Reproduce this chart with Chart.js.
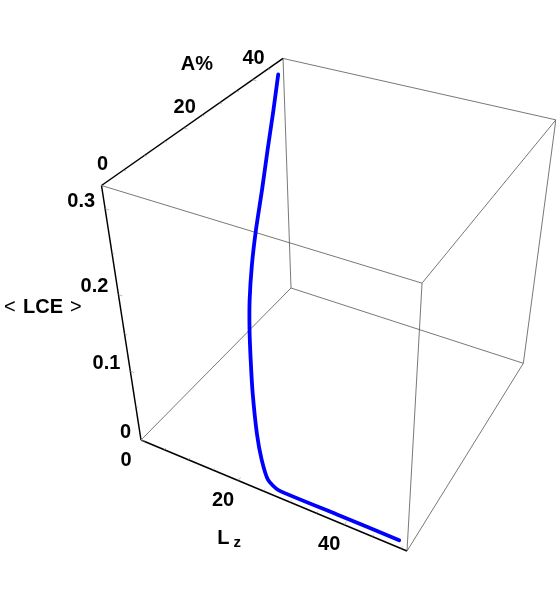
<!DOCTYPE html>
<html>
<head>
<meta charset="utf-8">
<script src="https://cdn.jsdelivr.net/npm/chart.js@4.4.1/dist/chart.umd.min.js"></script>
<style>
  html, body { margin: 0; padding: 0; background: #fff; }
  #plot { display: block; }
</style>
</head>
<body>
<canvas id="plot" width="556" height="603"></canvas>
<script>
// Curve samples: (Lz, A%, <LCE>)
const lzValues  = [0, 3.8, 8.1, 12.3, 16.5, 20.3, 24.0, 24.0, 24.0, 24.1, 24.4, 25.0, 26.0, 27.9, 38.7, 49.6];
const aValues   = [48.2, 40.3, 31.4, 22.9, 14.4, 7.3, 0.9, 0.4, 0.2, 0, 0, 0, 0, 0, 0, 0];
const lceValues = [0.310, 0.293, 0.278, 0.265, 0.255, 0.249, 0.243, 0.210, 0.175, 0.135, 0.081, 0.046, 0.020, 0.011, 0.011, 0.011];

// Box ranges
const lzRange  = [0, 51];
const aRange   = [0, 50];
const lceRange = [0, 0.325];

// Tick labels
const lzTicks  = [0, 20, 40];
const aTicks   = [0, 20, 40];
const lceTicks = [0, 0.1, 0.2, 0.3];
const lzMinor  = [5, 10, 15, 25, 30, 35, 45, 50];
const aMinor   = [5, 10, 15, 25, 30, 35, 45];
const lceMinor = [0.05, 0.15, 0.25];

// Viewing projection (screen anchors of the box origin and axis ends + perspective weights)
const view = {
    origin: [141, 440],
    lzEnd:  [407, 551],
    aEnd:   [291, 288],
    lceEnd: [101.5, 185.5],
    depth:  [0.89, 1.2, 0.835]
};

function project(lz, a, lce) {
    const u = (lz - lzRange[0]) / (lzRange[1] - lzRange[0]);
    const v = (a - aRange[0]) / (aRange[1] - aRange[0]);
    const w = (lce - lceRange[0]) / (lceRange[1] - lceRange[0]);
    const o = view.origin;
    const [k1, k2, k3] = view.depth;
    const nx = o[0] + u * (k1 * view.lzEnd[0] - o[0]) + v * (k2 * view.aEnd[0] - o[0]) + w * (k3 * view.lceEnd[0] - o[0]);
    const ny = o[1] + u * (k1 * view.lzEnd[1] - o[1]) + v * (k2 * view.aEnd[1] - o[1]) + w * (k3 * view.lceEnd[1] - o[1]);
    const d = 1 + u * (k1 - 1) + v * (k2 - 1) + w * (k3 - 1);
    return { x: nx / d, y: ny / d };
}

// Box edges
const L0 = lzRange[0], L1 = lzRange[1];
const A0 = aRange[0], A1 = aRange[1];
const C0 = lceRange[0], C1 = lceRange[1];

const axisEdges = [
    [[L0, A0, C0], [L1, A0, C0]],   // Lz axis
    [[L0, A0, C0], [L0, A0, C1]],   // LCE axis
    [[L0, A0, C1], [L0, A1, C1]]    // A% axis
];
const boxEdges = [
    [[L0, A0, C0], [L0, A1, C0]],
    [[L0, A1, C0], [L1, A1, C0]],
    [[L1, A0, C0], [L1, A1, C0]],
    [[L0, A1, C0], [L0, A1, C1]],
    [[L1, A0, C0], [L1, A0, C1]],
    [[L1, A1, C0], [L1, A1, C1]],
    [[L0, A0, C1], [L1, A0, C1]],
    [[L1, A0, C1], [L1, A1, C1]],
    [[L0, A1, C1], [L1, A1, C1]]
];

function edgeDataset(edge, color, width) {
    return {
        data: edge.map(p => project(p[0], p[1], p[2])),
        showLine: true,
        borderColor: color,
        borderWidth: width,
        pointRadius: 0,
        clip: false
    };
}

const datasets = [];
axisEdges.forEach(e => datasets.push(edgeDataset(e, '#000', 1.5)));
boxEdges.forEach(e => datasets.push(edgeDataset(e, '#555', 0.8)));
datasets.push({
    data: lzValues.map((lz, i) => project(lz, aValues[i], lceValues[i])),
    showLine: true,
    borderColor: '#0000ff',
    borderWidth: 3.8,
    borderCapStyle: 'round',
    borderJoinStyle: 'round',
    tension: 0.2,
    pointRadius: 0,
    clip: false
});

const font = '"Liberation Sans", Arial, Helvetica, sans-serif';

const labelsPlugin = {
    id: 'labels3d',
    afterDatasetsDraw(chart) {
        const ctx = chart.ctx;
        const sx = chart.scales.x, sy = chart.scales.y;
        const px = (lz, a, lce) => {
            const p = project(lz, a, lce);
            return { x: sx.getPixelForValue(p.x), y: sy.getPixelForValue(p.y) };
        };
        const line = (p, q) => {
            ctx.beginPath();
            ctx.moveTo(p.x, p.y);
            ctx.lineTo(q.x, q.y);
            ctx.stroke();
        };
        ctx.save();

        // faint tick marks
        ctx.strokeStyle = '#999';
        ctx.lineWidth = 0.7;
        lzTicks.forEach(t => line(px(t, A0, C0), px(t, A0 + 0.015 * (A1 - A0), C0)));
        lzMinor.forEach(t => line(px(t, A0, C0), px(t, A0 + 0.009 * (A1 - A0), C0)));
        lceTicks.forEach(t => line(px(L0, A0, t), px(L0 + 0.015 * (L1 - L0), A0, t)));
        lceMinor.forEach(t => line(px(L0, A0, t), px(L0 + 0.009 * (L1 - L0), A0, t)));
        aTicks.forEach(t => line(px(L0, t, C1), px(L0 + 0.015 * (L1 - L0), t, C1)));
        aMinor.forEach(t => line(px(L0, t, C1), px(L0 + 0.009 * (L1 - L0), t, C1)));

        ctx.fillStyle = '#000';
        ctx.textBaseline = 'middle';
        ctx.font = 'bold 20px ' + font;

        // LCE tick labels
        ctx.textAlign = 'right';
        lceTicks.forEach(t => {
            const p = px(L0, A0, t);
            ctx.fillText(t === 0 ? '0' : String(t), p.x - 10, p.y - 7.5);
        });
        // Lz tick labels
        ctx.textAlign = 'center';
        lzTicks.forEach(t => {
            const p = px(t, A0, C0);
            ctx.fillText(String(t), p.x - 15, p.y + 20);
        });
        // A% tick labels
        aTicks.forEach(t => {
            const p = px(L0, t, C1);
            ctx.fillText(String(t), p.x + 1, p.y - 21);
        });

        // axis titles
        const aMid = px(L0, (A0 + A1) / 2, C1);
        ctx.fillText('A%', aMid.x - 5, aMid.y - 51);

        const cMid = px(L0, A0, (C0 + C1) / 2);
        ctx.textAlign = 'left';
        ctx.font = '20px ' + font;
        const lx = cMid.x - 119, ly = cMid.y - 17;
        ctx.fillText('<', lx, ly);
        ctx.font = 'bold 20px ' + font;
        ctx.fillText('LCE', lx + 19, ly);
        ctx.font = '20px ' + font;
        ctx.fillText('>', lx + 66, ly);

        const zMid = px((L0 + L1) / 2, A0, C0);
        ctx.font = 'bold 20px ' + font;
        ctx.textAlign = 'center';
        ctx.fillText('L', zMid.x - 43, zMid.y + 46);
        ctx.font = 'bold 15px ' + font;
        ctx.fillText('z', zMid.x - 29, zMid.y + 51);

        ctx.restore();
    }
};

new Chart(document.getElementById('plot'), {
    type: 'scatter',
    data: { datasets: datasets.reverse() },
    options: {
        responsive: false,
        animation: false,
        layout: { padding: 0 },
        plugins: { legend: { display: false }, tooltip: { enabled: false } },
        scales: {
            x: { type: 'linear', min: 0, max: 556, display: false },
            y: { type: 'linear', min: 0, max: 603, reverse: true, display: false }
        }
    },
    plugins: [labelsPlugin]
});
</script>
</body>
</html>
